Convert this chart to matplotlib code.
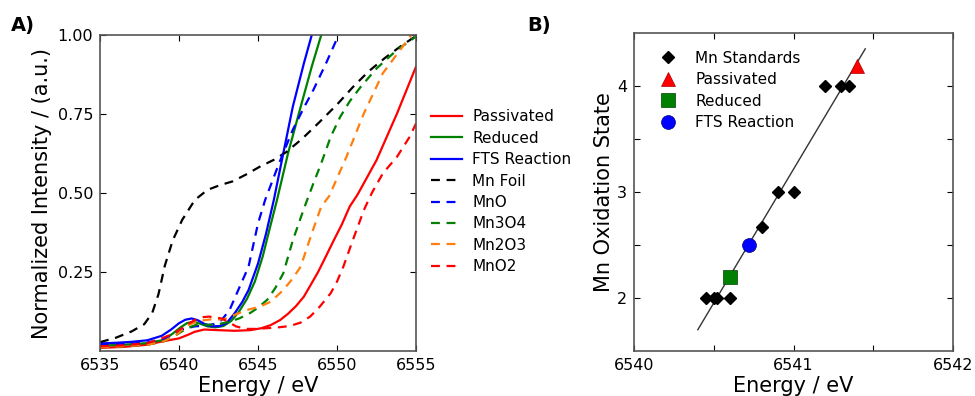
import numpy as np
import matplotlib
matplotlib.use('Agg')
import matplotlib.pyplot as plt

# ---- panel A: XANES spectra (energy in eV, normalized intensity) ----
foil_e = [6535.0, 6536.0, 6537.0, 6537.8, 6538.3, 6538.7, 6539.1, 6539.6, 6540.2, 6541.0, 6541.8, 6542.6,
          6543.4, 6544.3, 6545.1, 6546.0, 6546.8, 6547.8, 6548.9, 6550.0, 6551.0, 6552.0, 6553.1, 6554.1, 6555.0]
foil_i = [0.028, 0.042, 0.062, 0.085, 0.12, 0.18, 0.27, 0.35, 0.415, 0.478, 0.51, 0.525,
          0.537, 0.56, 0.583, 0.605, 0.63, 0.672, 0.725, 0.78, 0.835, 0.885, 0.93, 0.967, 0.997]

fts_e = [6535.0, 6536.0, 6537.0, 6538.0, 6538.9, 6539.5, 6540.0, 6540.4, 6540.8, 6541.2, 6541.6, 6542.1,
         6542.6, 6543.0, 6543.5, 6544.0, 6544.4, 6545.0, 6545.5, 6546.0, 6546.6, 6547.2, 6547.9, 6548.4, 6548.8]
fts_i = [0.024, 0.026, 0.029, 0.034, 0.048, 0.068, 0.088, 0.099, 0.103, 0.097, 0.086, 0.078,
         0.079, 0.088, 0.118, 0.155, 0.193, 0.277, 0.37, 0.478, 0.626, 0.773, 0.91, 1.0, 1.07]

reduced_e = [6535.0, 6536.5, 6538.0, 6539.0, 6539.6, 6540.1, 6540.5, 6540.9, 6541.3, 6541.8, 6542.3, 6542.8,
             6543.3, 6543.8, 6544.3, 6544.8, 6545.3, 6545.7, 6546.2, 6546.9, 6547.7, 6548.4, 6549.0, 6549.3]
reduced_i = [0.017, 0.02, 0.025, 0.035, 0.055, 0.075, 0.088, 0.093, 0.087, 0.078, 0.075, 0.079,
             0.095, 0.125, 0.165, 0.22, 0.3, 0.38, 0.478, 0.626, 0.773, 0.9, 1.0, 1.05]

pas_e = [6535.0, 6536.5, 6538.0, 6538.9, 6540.0, 6540.6, 6541.0, 6541.6, 6542.5, 6543.5, 6544.5, 6545.2,
         6545.8, 6546.4, 6546.9, 6547.4, 6547.9, 6548.4, 6548.8, 6549.3, 6549.8, 6550.3, 6550.8, 6551.3,
         6552.5, 6553.8, 6555.0]
pas_i = [0.01, 0.013, 0.02, 0.03, 0.04, 0.052, 0.061, 0.068, 0.066, 0.064, 0.066, 0.072,
         0.082, 0.098, 0.118, 0.142, 0.172, 0.215, 0.25, 0.3, 0.351, 0.4, 0.457, 0.495,
         0.604, 0.752, 0.9]

mno_e = [6535.0, 6536.5, 6538.0, 6539.0, 6539.7, 6540.3, 6541.0, 6541.6, 6542.2, 6542.7, 6543.2, 6543.75,
         6544.4, 6545.0, 6545.45, 6546.3, 6547.2, 6547.9, 6548.5, 6549.3, 6550.1, 6550.4]
mno_i = [0.02, 0.022, 0.027, 0.037, 0.055, 0.07, 0.078, 0.08, 0.085, 0.098, 0.13, 0.193,
         0.267, 0.404, 0.478, 0.59, 0.70, 0.77, 0.826, 0.91, 1.0, 1.03]

mn3o4_e = [6535.0, 6536.5, 6538.0, 6539.0, 6539.8, 6540.5, 6541.2, 6542.0, 6542.6, 6543.2, 6543.8, 6544.4,
           6545.0, 6545.6, 6546.1, 6546.6, 6547.2, 6547.9, 6548.5, 6549.0, 6549.6, 6550.2, 6550.8, 6551.5,
           6552.5, 6553.8, 6555.0]
mn3o4_i = [0.012, 0.015, 0.02, 0.03, 0.05, 0.072, 0.085, 0.083, 0.086, 0.093, 0.103, 0.117,
           0.137, 0.163, 0.2, 0.246, 0.35, 0.45, 0.53, 0.594, 0.678, 0.741, 0.79, 0.836,
           0.894, 0.953, 0.995]

mn2o3_e = [6535.0, 6536.5, 6538.0, 6539.0, 6539.8, 6540.5, 6541.2, 6542.0, 6542.8, 6543.5, 6544.3, 6545.1,
           6545.8, 6546.6, 6547.2, 6547.7, 6548.4, 6549.0, 6549.5, 6550.6, 6551.7, 6552.9, 6554.0, 6554.7,
           6555.0]
mn2o3_i = [0.012, 0.015, 0.02, 0.03, 0.05, 0.08, 0.095, 0.1, 0.1, 0.114, 0.13, 0.14,
           0.156, 0.193, 0.23, 0.267, 0.372, 0.457, 0.49, 0.615, 0.752, 0.879, 0.953, 1.0,
           1.02]

mno2_e = [6535.0, 6536.5, 6538.0, 6538.9, 6539.5, 6540.0, 6540.5, 6541.0, 6541.5, 6541.9, 6542.7, 6543.2,
          6543.6, 6544.2, 6544.9, 6545.5, 6546.3, 6547.0, 6547.7, 6548.3, 6548.9, 6549.6, 6550.0, 6550.4,
          6551.0, 6551.7, 6552.2, 6552.9, 6553.8, 6554.6, 6555.0]
mno2_i = [0.015, 0.018, 0.025, 0.04, 0.052, 0.066, 0.083, 0.098, 0.107, 0.109, 0.103, 0.09,
          0.078, 0.07, 0.07, 0.072, 0.075, 0.079, 0.09, 0.109, 0.14, 0.183, 0.22, 0.267,
          0.351, 0.446, 0.5, 0.562, 0.615, 0.678, 0.72]

# ---- panel B: edge energy vs oxidation state ----
std_e = [6540.45, 6540.5, 6540.52, 6540.6, 6540.8, 6540.9, 6541.0, 6541.2, 6541.3, 6541.35]
std_ox = [2, 2, 2, 2, 2.67, 3, 3, 4, 4, 4]
samples = ['Passivated', 'Reduced', 'FTS Reaction']
sample_e = [6541.4, 6540.6, 6540.72]
sample_ox = [4.19, 2.2, 2.5]

plt.rcParams['font.family'] = 'DejaVu Sans'
plt.rcParams['xtick.direction'] = 'in'
plt.rcParams['ytick.direction'] = 'in'
plt.rcParams['xtick.top'] = True
plt.rcParams['ytick.right'] = True

fig = plt.figure(figsize=(9.75, 3.96), dpi=100)
axA = fig.add_axes([0.1026, 0.1136, 0.3241, 0.798])
axB = fig.add_axes([0.6503, 0.1136, 0.3271, 0.803])

dash = (4, 3)
lw = 1.6
axA.plot(pas_e, pas_i, color='r', lw=lw, label='Passivated')
axA.plot(reduced_e, reduced_i, color='g', lw=lw, label='Reduced')
axA.plot(fts_e, fts_i, color='b', lw=lw, label='FTS Reaction')
axA.plot(foil_e, foil_i, color='k', lw=lw, dashes=dash, label='Mn Foil')
axA.plot(mno_e, mno_i, color='b', lw=lw, dashes=dash, label='MnO')
axA.plot(mn3o4_e, mn3o4_i, color='g', lw=lw, dashes=dash, label='Mn3O4')
axA.plot(mn2o3_e, mn2o3_i, color='#ff7f0e', lw=lw, dashes=dash, label='Mn2O3')
axA.plot(mno2_e, mno2_i, color='r', lw=lw, dashes=dash, label='MnO2')

axA.set_xlim(6535, 6555)
axA.set_ylim(0, 1)
axA.set_xticks([6535, 6540, 6545, 6550, 6555])
axA.set_yticks([0.25, 0.5, 0.75, 1.0])
axA.set_yticklabels(['0.25', '0.50', '0.75', '1.00'])
axA.set_xlabel('Energy / eV', fontsize=15, labelpad=2)
axA.set_ylabel('Normalized Intensity / (a.u.)', fontsize=15, labelpad=4)
axA.legend(loc='upper left', bbox_to_anchor=(0.442, 0.724), bbox_transform=fig.transFigure,
           frameon=False, fontsize=11, handlelength=2.0, handletextpad=0.7,
           labelspacing=0.42, borderpad=0, borderaxespad=0)

# standards fit line
coef = np.polyfit(std_e, std_ox, 1)
fit_e = np.array([6540.4, 6541.45])
axB.plot(fit_e, np.polyval(coef, fit_e), color='#333333', lw=1)
axB.plot(std_e, std_ox, 'D', color='k', ms=6, label='Mn Standards')
axB.plot(sample_e[0], sample_ox[0], '^', color='r', ms=10, mec='#aa0000', mew=0.5, label=samples[0])
axB.plot(sample_e[1], sample_ox[1], 's', color='g', ms=10, mec='#004000', mew=0.5, label=samples[1])
axB.plot(sample_e[2], sample_ox[2], 'o', color='b', ms=10, mec='#000080', mew=0.5, label=samples[2])

axB.set_xlim(6540, 6542)
axB.set_ylim(1.5, 4.5)
axB.set_xticks([6540, 6541, 6542])
axB.set_xticks([6540.5, 6541.5], minor=True)
axB.set_yticks([2, 3, 4])
axB.set_yticks([2.5, 3.5], minor=True)
axB.xaxis.set_major_formatter(matplotlib.ticker.FormatStrFormatter('%d'))
axB.set_xlabel('Energy / eV', fontsize=15, labelpad=2)
axB.set_ylabel('Mn Oxidation State', fontsize=15, labelpad=2)
axB.legend(loc='upper left', bbox_to_anchor=(0.669, 0.872), bbox_transform=fig.transFigure,
           frameon=False, fontsize=11, numpoints=1, handlelength=2, handletextpad=0.8,
           labelspacing=0.42, borderpad=0, borderaxespad=0)

for ax in (axA, axB):
    ax.tick_params(which='both', length=4, width=0.8, labelsize=11.5, pad=5)
    for s in ax.spines.values():
        s.set_color('#555555')
        s.set_linewidth(1.2)

fig.text(0.023, 0.935, 'A)', fontsize=14, fontweight='bold', ha='center', va='center')
fig.text(0.553, 0.935, 'B)', fontsize=14, fontweight='bold', ha='center', va='center')

fig.savefig('out.png', dpi=100)
